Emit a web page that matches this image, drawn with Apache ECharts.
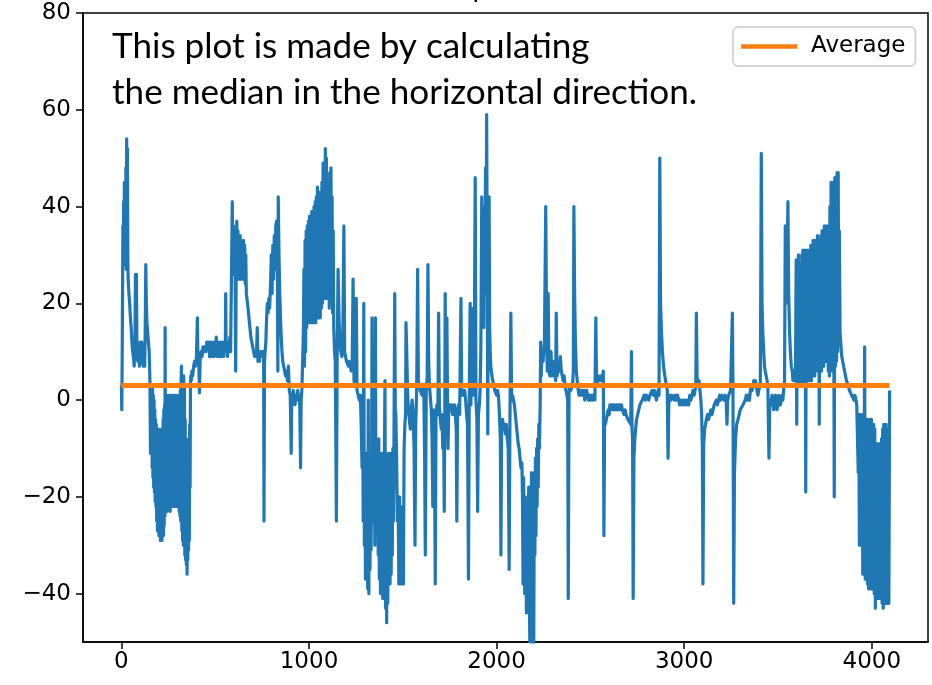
<!DOCTYPE html>
<html><head><meta charset="utf-8">
<script src="https://cdn.jsdelivr.net/npm/echarts@6/dist/echarts.min.js"></script>
<style>html,body{margin:0;padding:0;background:#fff}#c{width:932px;height:685px}</style>
</head><body><div id="c"></div>
<script>
const xTicks=[0,1000,2000,3000,4000];
const yTicks=[-40,-20,0,20,40,60,80];
const averageValue=3;
const averageSpan=[0,4095];
const titleText='Horizontal profile  (median)';
const noteLines=['This plot is made by calculating','the median in the horizontal direction.'];

const segStart=[[0,3],[2,-2],[4,8],[6,22],[8,36],[10,30],[12,41],[14,35],[16,45],[18,28],[20,44],[22,30],[24,48],[26,27],[28,54],[30,38],[32,52],[34,30],[36,25],[40,22],[44,20],[48,17],[52,15],[56,12],[60,10],[64,9],[68,7],[72,12],[75,26],[77,10],[80,26],[83,9],[88,8],[92,11],[96,7],[100,12],[104,10],[108,12],[112,8],[116,7],[120,10],[124,7],[127,15],[130,28],[133,20],[136,16],[140,14],[144,12],[148,10],[152,4],[155,-11],[158,3]];
const segNeg1=[[160,-11],[162,2],[164,-14],[166,3],[168,-16],[170,1],[172,-18],[174,0],[176,-19],[178,-2],[180,-21],[182,-4],[184,-22],[186,-5],[188,-25],[190,-6],[192,-27],[194,-7],[196,-26],[198,-6],[200,-28],[202,-7],[204,-27],[206,-8],[208,-29],[210,-7],[212,-28],[214,-6],[216,-29],[218,-7],[220,-27],[222,-4],[224,-28],[226,-2],[228,-26],[230,-1],[232,-24],[233,15],[235,-23],[237,0],[240,-22],[242,1],[244,-23],[246,0],[248,-22],[250,1],[252,-21],[254,0],[256,-22],[258,1],[260,-23],[262,1],[264,-22],[266,0],[268,-22],[270,1],[272,-21],[274,0],[276,-22],[278,1],[280,-21],[282,1],[284,-22],[286,0],[288,-21],[290,1],[292,-22],[294,0],[296,-21],[298,1],[300,-21],[302,-1],[304,-22],[306,0],[308,-23],[310,1],[312,-24],[314,2],[316,-25],[318,3],[320,7],[322,-27],[324,4],[326,-29],[328,5],[330,-30],[332,5],[334,-30],[336,3],[338,-32],[340,-4],[342,-33],[344,-8],[346,-34],[348,-9],[350,-36],[352,-10],[354,-33],[356,-9],[358,-31],[360,-8],[362,-29],[364,-5],[366,-18],[368,2],[370,5]];
const segPlateau=[[372,4],[376,6],[380,5],[385,7],[390,8],[395,7],[400,9],[405,17],[408,8],[412,9],[416,1.5],[420,9],[425,10],[430,9],[435,11],[440,10],[445,11],[450,10],[455,12],[460,11],[465,12],[470,9],[474,12],[478,11],[482,9],[486,12],[490,11],[494,9],[498,12],[502,11],[506,13],[510,9],[514,12],[518,11],[522,9],[526,12],[530,11],[534,9],[538,12],[542,11],[546,9],[550,12],[554,11],[556,22],[558,11],[562,12],[566,9],[570,12],[574,11],[578,13],[582,10]];
const segPeak1=[[585,20],[588,30],[591,41],[594,28],[597,36],[600,26],[603,35],[606,27],[609,6],[612,28],[615,37],[618,27],[621,35],[624,25],[627,34],[630,26],[633,34],[636,25],[639,33],[642,27],[645,32],[648,25],[651,33],[654,26],[657,32],[660,24],[663,30],[666,22]];
const segDecay1=[[670,22],[675,19],[680,17],[685,15],[690,13],[695,12],[700,11],[705,10],[710,9],[715,10],[720,9],[724,15],[728,8],[732,9],[736,8],[740,10],[745,9],[750,10],[755,9],[758,10],[760,-25],[763,8],[766,10]];
const segRise1=[[770,12],[774,17],[778,20],[782,18],[786,21],[790,19],[795,24],[799,30],[803,22],[807,32],[811,25],[815,34],[819,27],[823,36],[827,37],[831,30],[834,6],[836,42],[840,30],[844,22],[848,17],[852,13],[856,10],[860,8],[865,7],[870,6],[875,5],[880,6],[885,4],[890,7],[893,4]];
const segFlat1=[[895,2],[900,1],[905,-11],[908,1],[912,0],[916,2],[920,1],[925,-1],[930,1],[935,0],[940,2],[945,0],[950,1],[955,-14],[958,0],[962,2]];
const segDense1=[[966,2],[970,14],[973,27],[976,7],[979,33],[982,10],[985,35],[988,15],[991,36],[994,16],[997,37],[1000,17],[1003,38],[1006,16],[1009,38],[1012,16],[1015,39],[1018,17],[1021,39],[1024,16],[1027,40],[1030,17],[1033,41],[1036,16],[1039,42],[1042,18],[1045,44],[1048,17],[1051,43],[1054,18],[1057,42],[1060,17],[1063,43],[1066,19],[1069,45],[1072,20],[1075,49],[1078,21],[1081,47],[1084,21],[1087,52],[1090,22],[1093,50],[1096,21],[1099,45],[1102,21],[1105,44],[1108,19],[1111,47],[1114,22],[1117,48],[1120,20],[1123,42],[1126,18],[1129,35],[1132,15]];
const segSpikes1=[[1136,10],[1140,8],[1146,-25],[1150,8],[1155,27],[1160,17],[1165,12],[1170,10],[1175,9],[1180,12],[1186,36],[1190,10],[1195,9],[1200,8],[1205,8],[1210,7],[1215,8],[1220,7],[1225,6],[1230,7],[1235,25],[1240,4],[1245,3],[1252,21],[1256,2],[1262,1],[1268,0],[1274,1],[1278,-5]];
const segNeg2=[[1280,-5],[1283,-14],[1286,1],[1289,-25],[1292,20],[1295,-30],[1298,-12],[1301,-37],[1304,-11],[1307,-37],[1310,-12],[1313,-39],[1316,0],[1319,-40],[1322,-12],[1325,-35],[1328,-11],[1331,-31],[1334,-12],[1336,17],[1339,-25],[1342,-12],[1345,-23],[1348,-11],[1351,-30],[1354,17],[1357,-24],[1360,-12],[1363,-23],[1366,-12],[1369,-32],[1372,-8],[1375,-37],[1378,-11],[1381,-40],[1384,-12],[1387,-38],[1390,-11],[1393,-41],[1396,-12],[1399,-41],[1402,-11],[1405,4],[1408,-43],[1411,-12],[1414,-46],[1417,-12],[1420,-42],[1423,-11],[1426,-33],[1429,-12],[1432,-38],[1435,-11],[1438,-36],[1441,-12],[1444,-32],[1447,-10],[1450,-25],[1453,-8],[1457,22],[1460,-2]];
const segMix1=[[1463,-3],[1467,-12],[1471,-25],[1475,-20],[1479,-38],[1483,-20],[1487,-38],[1491,-28],[1495,-38],[1499,-22],[1503,-38],[1507,-10],[1511,-5],[1515,-3],[1517,16],[1521,10],[1525,2],[1530,-2],[1535,-4],[1540,-6],[1545,-2],[1550,0],[1555,-3],[1560,-10],[1565,-30],[1569,-5],[1574,2],[1579,27],[1583,4],[1588,3],[1593,2],[1598,2],[1603,1],[1608,3],[1612,2],[1616,-10],[1620,-32],[1625,2],[1630,5],[1634,28],[1638,8]];
const segMix2=[[1642,3],[1646,1],[1652,-2],[1656,-8],[1660,-22],[1664,-2],[1668,-4],[1673,-38],[1677,-3],[1682,-1],[1687,-3],[1691,18],[1695,-1],[1700,-4],[1705,-6],[1709,-3],[1713,-10],[1717,-4],[1721,-23],[1724,-1],[1726,22],[1729,0],[1735,17],[1738,1],[1741,-10],[1745,-2],[1750,-1],[1755,-2],[1760,-1],[1765,-3],[1770,-2],[1775,-1],[1780,-3],[1785,-6],[1788,-25],[1792,-2],[1797,-1],[1803,-3],[1810,21],[1814,1],[1820,2],[1825,1],[1830,2],[1835,0],[1840,-3],[1845,-5],[1850,-37],[1854,-2],[1859,20],[1863,-1],[1866,19],[1870,1],[1875,2],[1880,1],[1886,46],[1890,0],[1895,-4],[1899,-23],[1903,-3],[1908,-1],[1912,2],[1916,10],[1921,42],[1925,20],[1928,35],[1932,15],[1935,40],[1938,22],[1941,48],[1944,25],[1947,59],[1950,30],[1953,-7],[1956,25],[1960,42],[1963,15],[1966,10],[1969,7],[1975,5],[1980,4],[1985,3],[1990,2],[1995,2],[2000,1]];
const segNeg3=[[2005,2],[2010,1],[2015,-3],[2020,-8],[2023,-32],[2027,-6],[2032,-4],[2037,-6],[2042,-5],[2047,-7],[2052,-5],[2057,-8],[2062,-10],[2067,-35],[2071,-5],[2076,18],[2080,0],[2085,1],[2090,0],[2095,-1],[2100,-3],[2105,-5],[2110,-7],[2115,-9],[2120,-10],[2125,-12],[2130,-14],[2135,-13],[2138,-20],[2141,-38],[2144,-16],[2147,-25],[2150,-40],[2153,-20],[2156,-30],[2159,-44],[2162,-22],[2165,-35],[2168,-42],[2171,-18],[2174,-38],[2177,-50],[2180,-25],[2183,-48],[2186,-15],[2189,-40],[2192,-51],[2195,-20],[2198,-52],[2201,-15],[2204,-32],[2207,-12],[2210,-28],[2213,-10],[2216,-22],[2219,-8],[2222,-18],[2225,-5],[2228,-10],[2232,-2],[2235,12],[2238,5],[2242,10],[2248,8],[2255,12]];
const segFlat2=[[2262,40],[2266,18],[2270,6],[2275,22],[2279,6],[2284,5],[2290,10],[2295,5],[2300,8],[2305,5],[2310,6],[2315,4],[2318,18],[2322,5],[2326,6],[2330,8],[2335,6],[2340,9],[2345,6],[2350,5],[2355,4],[2360,5],[2365,3],[2370,2],[2375,1],[2379,0],[2382,-41],[2386,1],[2390,3],[2395,2],[2400,2],[2405,3],[2409,6],[2412,40],[2416,22],[2420,12],[2425,6],[2430,4],[2435,2],[2440,1]];
const segFlat3=[[2444,2],[2450,1],[2455,2],[2460,1],[2465,2],[2470,0],[2475,1],[2480,2],[2485,1],[2490,0],[2495,1],[2500,0],[2505,1],[2510,0],[2515,1],[2520,1],[2524,0],[2529,17],[2533,3],[2538,4],[2542,5],[2547,4],[2552,4],[2556,5],[2560,4],[2565,5],[2569,6],[2572,-28],[2576,-4],[2580,-5],[2586,-5],[2590,-3],[2595,-2],[2600,-3],[2604,-1],[2608,-2],[2613,-1],[2617,-2],[2622,-1],[2626,-2],[2630,-1],[2635,-2],[2639,-1],[2644,-2],[2648,-1],[2652,-2],[2657,-1],[2661,-2],[2666,-1],[2670,-2],[2675,-2],[2680,-3],[2685,-2],[2690,-3],[2695,-3],[2700,-4],[2705,-4],[2710,-4],[2715,-5],[2719,10],[2722,-6],[2725,-8],[2728,-41],[2732,-12],[2737,-8],[2741,-6],[2746,-4],[2752,-3],[2758,-2],[2764,-1],[2770,-1],[2776,0],[2781,0],[2787,1],[2793,0],[2799,1],[2805,1],[2811,0],[2817,1],[2823,1],[2829,2],[2835,1],[2841,2],[2846,1],[2852,0],[2857,1],[2861,2],[2866,1],[2870,50],[2874,20],[2879,14],[2884,10],[2888,8],[2893,6],[2897,5],[2901,4],[2905,3],[2910,2],[2914,-12],[2918,-1],[2923,1],[2929,0],[2935,1],[2941,1],[2947,0],[2953,1],[2959,0],[2965,1],[2971,0],[2976,-1],[2982,0],[2988,-1],[2994,0],[3000,-1],[3006,0],[3012,-1],[3018,0],[3024,-1],[3030,1],[3036,0],[3042,1],[3047,2],[3053,1],[3058,2],[3062,3],[3065,18],[3069,4],[3074,3],[3079,4],[3084,2],[3089,0],[3093,-3],[3097,-10],[3100,-38],[3104,-9],[3109,-6],[3114,-5],[3118,-4],[3124,-3],[3130,-4],[3136,-3],[3142,-2],[3148,-3],[3154,-2],[3160,-1],[3166,-1],[3171,0],[3177,-1],[3183,0],[3189,1],[3195,0],[3201,1],[3207,1],[3213,0],[3219,1],[3224,0],[3228,-5],[3232,0],[3237,1],[3242,1],[3247,2],[3252,2],[3257,18],[3260,3],[3264,-42],[3268,-15],[3274,-8],[3280,-5],[3287,-4],[3293,-3],[3299,-2],[3305,-2]];
const segRise2=[[3313,-1],[3320,-1],[3325,0],[3331,1],[3336,0],[3342,1],[3348,0],[3353,2],[3357,3],[3362,2],[3366,3],[3371,4],[3375,3],[3380,4],[3384,3],[3388,2],[3393,1],[3397,2],[3402,2],[3406,3],[3411,51],[3415,20],[3419,14],[3424,10],[3428,7],[3432,6],[3437,5],[3442,4],[3446,3],[3452,-12],[3456,-1],[3460,0],[3464,-1],[3468,1],[3473,0],[3477,-2],[3482,-1],[3486,1],[3491,0],[3495,-2],[3500,-1],[3504,1],[3508,0],[3513,-1],[3517,-1],[3522,1],[3526,0],[3530,2],[3535,4],[3539,36],[3543,20],[3548,25],[3553,41],[3557,22],[3562,14],[3566,10],[3571,7],[3576,6],[3580,4],[3584,5],[3588,6],[3593,4]];
const segDense2=[[3597,29],[3600,-5],[3603,20],[3606,3],[3609,30],[3612,4],[3615,28],[3618,3],[3621,14],[3624,4],[3627,30],[3630,3],[3633,31],[3636,4],[3639,29],[3642,5],[3645,31],[3648,-19],[3651,30],[3654,4],[3657,31],[3660,5],[3663,30],[3666,4],[3669,31],[3672,5],[3675,32],[3678,4],[3681,31],[3684,5],[3687,33],[3690,6],[3693,32],[3696,5],[3699,33],[3702,6],[3705,32],[3708,7],[3711,34],[3714,6],[3717,33],[3720,-5],[3723,33],[3726,7],[3729,34],[3732,6],[3735,35],[3738,8],[3741,34],[3744,7],[3747,36],[3750,8],[3753,35],[3756,9],[3759,36],[3762,8],[3765,35],[3768,6],[3771,36],[3774,5],[3777,40],[3780,6],[3783,45],[3786,7],[3789,44],[3792,6],[3795,45],[3798,8],[3800,-20],[3803,46],[3806,7],[3809,45],[3812,8],[3815,47],[3818,10],[3821,47],[3824,14],[3827,35]];
const segDecay2=[[3831,14],[3836,11],[3840,9],[3845,8],[3850,7],[3855,6],[3860,5],[3865,4],[3870,4],[3875,3],[3881,2],[3887,2],[3893,1],[3899,1],[3905,0],[3910,1],[3916,0],[3920,-1]];
const segNeg4=[[3925,-1],[3928,-15],[3931,-3],[3934,-30],[3937,-3],[3940,-22],[3943,-3],[3946,-30],[3949,-4],[3952,-36],[3955,-3],[3958,-34],[3962,11],[3965,-37],[3968,-4],[3971,-36],[3974,-4],[3977,-38],[3980,-5],[3983,-39],[3986,-4],[3989,-38],[3992,-5],[3995,-39],[3998,-4],[4001,-38],[4004,-5],[4007,-39],[4010,-5],[4013,-40],[4016,-6],[4019,-43],[4022,-9],[4025,-40],[4028,-10],[4031,-41],[4034,-9],[4037,-40],[4040,-10],[4043,-41],[4046,-9],[4049,-40],[4052,-8],[4055,-42],[4058,-6],[4061,-43],[4064,-5],[4067,-40],[4070,-6],[4073,-42],[4076,-5],[4079,-41],[4082,-6],[4085,-42],[4088,-10],[4091,-42],[4095,2]];

const profile=[].concat(segStart,segNeg1,segPlateau,segPeak1,segDecay1,segRise1,segFlat1,segDense1,segSpikes1,segNeg2,segMix1,segMix2,segNeg3,segFlat2,segFlat3,segRise2,segDense2,segDecay2,segNeg4);
const averageLine=averageSpan.map(x=>[x,averageValue]);

// fit annotation font so the long line spans the same width as in the reference
const meas=document.createElement('canvas').getContext('2d');
meas.font='100px Lato';
const noteSize=Math.round(100*585/meas.measureText(noteLines[1]).width*10)/10;

const minus=v=>String(v).replace('-','\u2212');
const chart=echarts.init(document.getElementById('c'));
chart.setOption({
  animation:false,
  backgroundColor:'#fff',
  grid:{left:83,right:4,top:13,bottom:43,show:true,borderColor:'#000',borderWidth:1.5},
  xAxis:{type:'value',min:-204.75,max:4299.75,splitLine:{show:false},
    axisLine:{show:true,onZero:false,lineStyle:{color:'#000',width:1.5}},
    axisTick:{show:true,length:7,lineStyle:{color:'#000',width:1.5},customValues:xTicks},
    axisLabel:{customValues:xTicks,color:'#000',fontSize:23,fontFamily:'DejaVu Sans',margin:9,formatter:minus}},
  yAxis:{type:'value',min:-50,max:80,splitLine:{show:false},
    axisLine:{show:true,onZero:false,lineStyle:{color:'#000',width:1.5}},
    axisTick:{show:true,length:7,lineStyle:{color:'#000',width:1.5},customValues:yTicks},
    axisLabel:{customValues:yTicks,color:'#000',fontSize:23,fontFamily:'DejaVu Sans',margin:12,formatter:minus}},
  legend:{data:['Average'],left:733,top:27,icon:'rect',itemWidth:56,itemHeight:4.5,
    padding:[8,10,8,8],borderColor:'#cccccc',borderWidth:1.5,borderRadius:5,backgroundColor:'rgba(255,255,255,0.8)',
    textStyle:{fontSize:23,fontFamily:'DejaVu Sans',color:'#000',padding:[0,0,0,9]}},
  graphic:[
    {type:'text',x:510,y:-10.5,silent:true,style:{text:titleText,fontSize:26,fontFamily:'DejaVu Sans',fill:'#000',align:'center',verticalAlign:'middle'}},
    {type:'text',x:112,y:47,z:100,silent:true,style:{text:noteLines[0],fontSize:noteSize,fontFamily:'Lato',fill:'#000',align:'left',verticalAlign:'middle'}},
    {type:'text',x:112,y:93,z:100,silent:true,style:{text:noteLines[1],fontSize:noteSize,fontFamily:'Lato',fill:'#000',align:'left',verticalAlign:'middle'}}
  ],
  series:[
    {name:'Profile',type:'line',data:profile,showSymbol:false,symbol:'none',sampling:null,z:2,
      lineStyle:{color:'#1f77b4',width:3.2,join:'round'},itemStyle:{color:'#1f77b4'}},
    {name:'Average',type:'line',data:averageLine,showSymbol:false,symbol:'none',z:3,
      lineStyle:{color:'#ff7f0e',width:5},itemStyle:{color:'#ff7f0e'}}
  ]
});
</script></body></html>
